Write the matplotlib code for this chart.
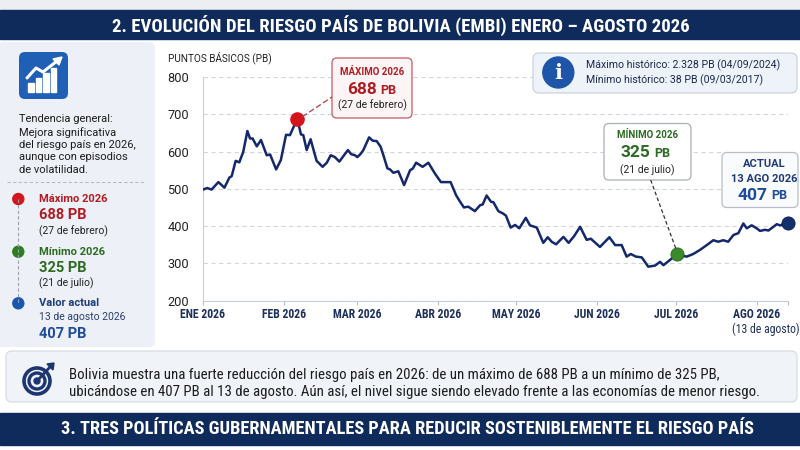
import numpy as np
import matplotlib.pyplot as plt
from matplotlib.patches import FancyBboxPatch, Rectangle, Circle, Polygon

NARROW = ['Roboto Condensed', 'Barlow Semi Condensed', 'DejaVu Sans']
SANS = ['Roboto', 'DejaVu Sans']
plt.rcParams['font.family'] = SANS

# dias desde el 1 de enero 2026 y riesgo pais (PB)
days = [0, 1.6, 3.3, 5.9, 8.2, 10.1, 11.0, 12.5, 13.9, 15.4,
        17.0, 18.0, 19.0, 20.6, 22.2, 24.4, 25.7, 28.0, 29.8, 31.8,
        33.3, 36.1, 37.5, 38.4, 39.7, 41.2, 43.5, 45.8, 47.4, 48.9,
        50.5, 52.2, 54.0, 55.5, 56.7, 58.2, 59.1, 60.4, 61.4, 63.6,
        65.0, 66.5, 68.0, 69.3, 70.6, 71.6, 72.9, 74.8, 77.0, 79.3,
        80.3, 81.6, 84.1, 86.3, 88.8, 91.1, 93.0, 94.8, 96.9, 98.1,
        99.9, 101.6, 104.1, 106.1, 107.1, 108.6, 110.3, 111.2, 113.1, 114.8,
        116.0, 117.8, 119.5, 121.1, 123.6, 125.2, 127.8, 130.3, 132.0, 133.5,
        135.2, 138.0, 140.0, 142.1, 144.4, 146.9, 148.5, 152.0, 155.6, 157.8,
        160.3, 162.2, 163.8, 165.8, 168.0, 170.5, 173.1, 175.0, 176.3, 178.8,
        181.4, 185.2, 187.7, 190.3, 192.9, 195.4, 197.3, 199.2, 201.1, 203.1,
        205.0, 206.9, 208.2, 210.1, 212.0, 213.3, 215.2, 216.5, 218.4, 219.7,
        220.9, 224.0]
pb = [498, 502, 498, 518, 503, 530, 534, 575, 571, 599,
      655, 635, 635, 614, 631, 590, 592, 552, 577, 645,
      644, 688, 646, 644, 604, 633, 575, 559, 570, 590,
      585, 573, 590, 604, 593, 590, 585, 594, 604, 638,
      629, 628, 613, 585, 555, 552, 543, 547, 510, 550,
      554, 570, 559, 570, 541, 518, 518, 518, 483, 469,
      450, 452, 440, 456, 458, 482, 465, 464, 440, 434,
      428, 396, 403, 394, 422, 402, 396, 355, 370, 358,
      351, 371, 355, 373, 398, 363, 366, 344, 370, 349,
      349, 318, 325, 318, 316, 291, 294, 304, 295, 309,
      324, 318, 325, 336, 349, 362, 358, 362, 358, 376,
      381, 407, 394, 402, 394, 387, 390, 388, 398, 405,
      402, 407]

month_days = [0, 31, 59, 90, 120, 151, 181, 212]
month_labels = ['ENE 2026', 'FEB 2026', 'MAR 2026', 'ABR 2026',
                'MAY 2026', 'JUN 2026', 'JUL 2026', 'AGO 2026']
end_day = 224
y_ticks = [200, 300, 400, 500, 600, 700, 800]
min_day = 181.4

NAVY = '#0f2b5b'
GREEN = '#2d6a22'
BLUE = '#1d4c9c'

fig = plt.figure(figsize=(8, 4.5), dpi=100)
fig.patch.set_facecolor('white')

bg = fig.add_axes([0, 0, 1, 1], zorder=0)
bg.set_xlim(0, 800)
bg.set_ylim(450, 0)
bg.axis('off')

ax = fig.add_axes([203 / 800, 1 - 300.6 / 450, 585 / 800, 223.6 / 450], zorder=2)
ax.patch.set_alpha(0)

fg = fig.add_axes([0, 0, 1, 1], zorder=5)
fg.set_xlim(0, 800)
fg.set_ylim(450, 0)
fg.axis('off')
fg.patch.set_alpha(0)

# fondos y barras de titulo
bg.add_patch(Rectangle((0, 0), 800, 10, color='#eceef2'))
bg.add_patch(Rectangle((0, 10), 800, 29, color=NAVY))
bg.text(401, 25, '2. EVOLUCIÓN DEL RIESGO PAÍS DE BOLIVIA (EMBI) ENERO – AGOSTO 2026',
        color='white', fontsize=13.5, fontweight='bold', family=NARROW,
        ha='center', va='center')
bg.add_patch(FancyBboxPatch((-10, 42), 165, 305, boxstyle='round,pad=0,rounding_size=6',
                            fc='#edf1f7', ec='none'))
bg.add_patch(FancyBboxPatch((6, 351), 791, 51, boxstyle='round,pad=0,rounding_size=6',
                            fc='#f0f3f8', ec='#d3d9e3', lw=0.8))
bg.add_patch(Rectangle((0, 413), 800, 32, color=NAVY))
bg.text(407, 429, '3. TRES POLÍTICAS GUBERNAMENTALES PARA REDUCIR SOSTENIBLEMENTE EL RIESGO PAÍS',
        color='white', fontsize=13.2, fontweight='bold', family=NARROW,
        ha='center', va='center')

# icono de tendencia
bg.add_patch(FancyBboxPatch((19, 52), 49, 47, boxstyle='round,pad=0,rounding_size=6',
                            fc='#1f5fb5', ec='none'))
for bx, btop in [(28, 83), (35.5, 78), (43, 73), (50.5, 68)]:
    bg.add_patch(Rectangle((bx, btop), 5.5, 92 - btop, color='white'))
bg.plot([27, 36, 43, 57], [78, 68, 72, 61], color='white', lw=2.2, solid_capstyle='round')
bg.add_patch(Polygon([[62, 57], [53, 59], [59, 65]], closed=True, color='white'))

bg.text(19, 114, 'Tendencia general:\nMejora significativa\ndel riesgo país en 2026,\naunque con episodios\nde volatilidad.',
        fontsize=8, color='#1c1c1c', ha='left', va='top', linespacing=1.3)
bg.plot([7, 144], [181.5, 181.5], color='#b5bcc7', lw=0.8, ls=(0, (3, 2)))

# linea de tiempo izquierda
bg.plot([18.3, 18.3], [199, 303], color='#9aa2ad', lw=0.8, ls=(0, (3, 2)))
for cy, c in [(199, '#d4161c'), (251.7, '#2f7d22'), (303.3, '#1a56b0')]:
    bg.add_patch(Circle((18.3, cy), 5.5, color=c))
left_items = [
    (199, 'Máximo 2026', 8, 'semibold', '#b01c22'),
    (215, '688 PB', 10.5, 'bold', '#b01c22'),
    (231.7, '(27 de febrero)', 7.5, 'normal', '#222222'),
    (251.7, 'Mínimo 2026', 8, 'semibold', GREEN),
    (268.3, '325 PB', 10.5, 'bold', GREEN),
    (283.3, '(21 de julio)', 7.5, 'normal', '#222222'),
    (303.3, 'Valor actual', 8, 'semibold', '#1f3d7a'),
    (317, '13 de agosto 2026', 7.5, 'normal', '#2a3f6e'),
    (334, '407 PB', 10.5, 'bold', BLUE),
]
for yy, txt, fs, fw, col in left_items:
    bg.text(39, yy, txt, fontsize=fs, fontweight=fw, color=col, ha='left', va='center')

# grafico principal
ax.plot(days, pb, color='#14286b', lw=1.8, zorder=3)
ax.set_xlim(0, end_day)
ax.set_ylim(200, 800)
ax.set_yticks(y_ticks)
ax.yaxis.grid(True, ls=(0, (4, 3)), color='#d3d7dd', lw=0.8)
ax.set_axisbelow(True)
for s in ['top', 'right']:
    ax.spines[s].set_visible(False)
ax.spines['left'].set_color('#c8cdd5')
ax.spines['bottom'].set_color('#c8cdd5')
ax.tick_params(axis='y', length=0, pad=10, labelsize=9.2, labelcolor='#222222')
ax.set_xticks(month_days + [end_day])
ax.set_xticklabels(month_labels + [''], fontsize=8.5, fontweight='bold',
                   color='#1d2f5c', family=NARROW)
ax.tick_params(axis='x', length=3, color='#b8bec7', pad=2.5)
bg.text(168, 57.3, 'PUNTOS BÁSICOS (PB)', fontsize=7.2, color='#222222', ha='left', va='center')
fg.text(766, 329.5, '(13 de agosto)', fontsize=8.5, color='#1d2f5c', family=NARROW,
        ha='center', va='center')

i_max = int(np.argmax(pb))
i_min = int(np.argmin(np.abs(np.array(days) - min_day)))
i_act = len(pb) - 1
ax.scatter([days[i_max]], [pb[i_max]], s=90, color='#d4161c', zorder=6, clip_on=False)
ax.scatter([days[i_min]], [pb[i_min]], s=90, color='#3a8a2a', edgecolor='#2a6a1e', lw=0.6,
           zorder=6, clip_on=False)
ax.scatter([days[i_act]], [pb[i_act]], s=90, color='#12306b', edgecolor='#0c2150', lw=0.6,
           zorder=6, clip_on=False)


def to_px(x, y):
    d = ax.transData.transform((x, y))
    return fg.transData.inverted().transform(d)


# caja maximo
fg.add_patch(FancyBboxPatch((332, 58), 80, 60, boxstyle='round,pad=0,rounding_size=5',
                            fc='#fdf5f5', ec='#c96a6e', lw=1))
mx, my = to_px(days[i_max], pb[i_max])
fg.plot([mx + 5, 332], [my - 2, 97], color='#b04a50', lw=1, ls=(0, (4, 2)))
fg.text(372, 71.7, 'MÁXIMO 2026', fontsize=7, fontweight='bold', color='#b01c22',
        ha='center', va='center')
fg.text(377, 89.3, '688', fontsize=12.5, fontweight='bold', color='#b01c22', ha='right', va='center')
fg.text(380, 90, 'PB', fontsize=9, fontweight='bold', color='#b01c22', ha='left', va='center')
fg.text(372, 105, '(27 de febrero)', fontsize=7.5, color='#222222', ha='center', va='center')

# caja historica
fg.add_patch(FancyBboxPatch((533, 53), 264, 40, boxstyle='round,pad=0,rounding_size=6',
                            fc='#eef3fa', ec='#c5cedb', lw=0.8))
fg.add_patch(Circle((558.3, 72.5), 15.5, color='#1f55a8'))
fg.text(558.3, 73, 'i', fontsize=15, fontweight='bold', family=['DejaVu Serif'],
        color='white', ha='center', va='center')
fg.text(586, 65, 'Máximo histórico: 2.328 PB (04/09/2024)', fontsize=7.6, color='#1b2a4a',
        ha='left', va='center')
fg.text(586, 80.7, 'Mínimo histórico: 38 PB (09/03/2017)', fontsize=7.6, color='#1b2a4a',
        ha='left', va='center')

# caja minimo
fg.add_patch(FancyBboxPatch((604, 123.5), 87, 56.5, boxstyle='round,pad=0,rounding_size=5',
                            fc='white', ec='#a9b0ba', lw=0.9))
nx, ny = to_px(days[i_min], pb[i_min])
fg.plot([650.7, nx - 1], [180, ny - 6], color='#333333', lw=0.9, ls=(0, (3, 2)))
fg.text(647.5, 135, 'MÍNIMO 2026', fontsize=7, fontweight='bold', color=GREEN,
        ha='center', va='center')
fg.text(650.5, 152.7, '325', fontsize=12.5, fontweight='bold', color=GREEN, ha='right', va='center')
fg.text(654, 153.3, 'PB', fontsize=9, fontweight='bold', color=GREEN, ha='left', va='center')
fg.text(647.5, 170, '(21 de julio)', fontsize=7.5, color='#222222', ha='center', va='center')

# caja actual
fg.add_patch(FancyBboxPatch((722, 152.5), 76, 55, boxstyle='round,pad=0,rounding_size=5',
                            fc='#fafbfc', ec='#b7bec8', lw=0.9))
fg.text(764, 164, 'ACTUAL', fontsize=8, fontweight='semibold', color='#1d3a78',
        ha='center', va='center')
fg.text(764, 179, '13 AGO 2026', fontsize=8, fontweight='semibold', color='#1d3a78',
        ha='center', va='center')
fg.text(767.5, 195, '407', fontsize=12.5, fontweight='bold', color=BLUE, ha='right', va='center')
fg.text(771, 195.6, 'PB', fontsize=9, fontweight='bold', color=BLUE, ha='left', va='center')

# nota inferior con icono de diana
for r, w in [(13, 2.6), (8, 2.4)]:
    bg.add_patch(Circle((37, 381), r, fc='none', ec='#1d3570', lw=w))
bg.add_patch(Circle((37, 381), 3, color='#1d3570'))
bg.plot([37, 50], [381, 367], color='#1d3570', lw=2)
bg.add_patch(Polygon([[54, 363], [47, 364], [53, 370]], closed=True, color='#1d3570'))
bg.text(69, 375, 'Bolivia muestra una fuerte reducción del riesgo país en 2026: de un máximo de 688 PB a un mínimo de 325 PB,',
        fontsize=10.7, color='#1c1c1c', family=NARROW, ha='left', va='center')
bg.text(69, 392, 'ubicándose en 407 PB al 13 de agosto. Aún así, el nivel sigue siendo elevado frente a las economías de menor riesgo.',
        fontsize=10.7, color='#1c1c1c', family=NARROW, ha='left', va='center')

fig.savefig('out.png', dpi=100)
